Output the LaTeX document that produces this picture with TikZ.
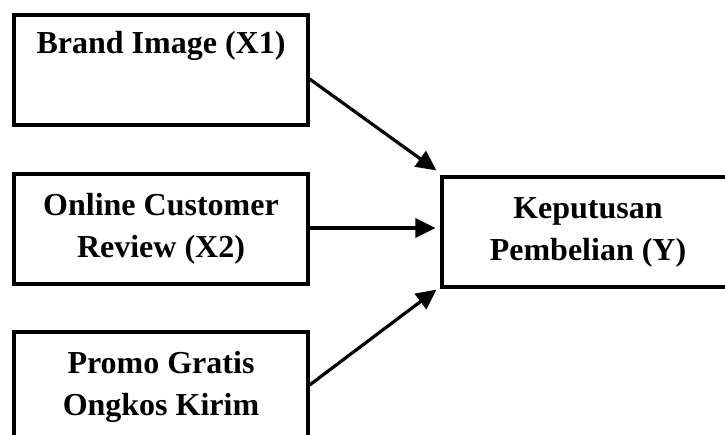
\documentclass[tikz,border=0pt]{standalone}
\usepackage{fontspec}
\setmainfont{Liberation Serif}
\usetikzlibrary{arrows.meta}
\tikzset{
  varbox/.style={draw=black, line width=3.2pt, rectangle, minimum width=294pt, minimum height=110pt,
    inner sep=0pt, align=center, font=\fontsize{32}{42}\selectfont\bfseries},
  link/.style={line width=3.2pt, -{Triangle[length=20pt,width=19pt]}}
}
\begin{document}
\begin{tikzpicture}[x=1pt,y=-1pt]
\useasboundingbox (0,0) rectangle (725,434);
\clip (0,0) rectangle (725,434);
\fill[white] (0,0) rectangle (725,434);
\node[varbox] (b1) at (161,70) {Brand Image (X1)\\ \strut};
\node[varbox] (b2) at (161,229) {Online Customer\\Review (X2)};
\node[varbox] (b3) at (161,387) {Promo Gratis\\Ongkos Kirim};
\node[varbox, minimum width=292pt] (y) at (588,232) {Keputusan\\Pembelian (Y)};
\draw[link] ([yshift=-9pt]b1.east) -- ([xshift=-4pt,yshift=5pt]y.north west);
\draw[link] ([yshift=1pt]b2.east) -- ([xshift=-5pt,yshift=4pt]y.west);
\draw[link] ([yshift=2pt]b3.east) -- ([xshift=-4pt,yshift=-1pt]y.south west);
\end{tikzpicture}
\end{document}
